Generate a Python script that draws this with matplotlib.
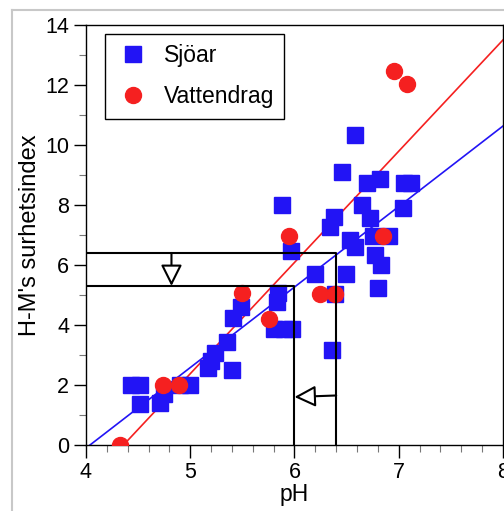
import numpy as np
import matplotlib.pyplot as plt
from matplotlib.lines import Line2D

plt.rcParams['font.family'] = ['Liberation Sans', 'DejaVu Sans']

# Sjöar (lakes)
lake_ph = [4.43, 4.52, 4.52, 4.71, 4.75, 4.90, 5.00, 5.17, 5.20, 5.24, 5.35, 5.40,
           5.41, 5.49, 5.84, 5.83, 5.80, 5.90, 5.98, 5.88, 5.97, 6.20, 6.34, 6.38,
           6.39, 6.36, 6.46, 6.49, 6.53, 6.58, 6.58, 6.65, 6.70, 6.72, 6.75, 6.77,
           6.82, 6.83, 6.80, 6.91, 7.04, 7.05, 7.12]
lake_idx = [2.0, 2.0, 1.35, 1.4, 1.7, 2.0, 2.0, 2.55, 2.8, 3.05, 3.44, 2.5,
            4.22, 4.6, 5.06, 4.78, 3.87, 3.87, 3.87, 8.0, 6.47, 5.70, 7.28, 7.6,
            5.03, 3.17, 9.11, 5.69, 6.83, 6.59, 10.33, 8.0, 8.73, 7.56, 6.97, 6.33,
            8.87, 6.0, 5.22, 6.97, 7.9, 8.72, 8.72]

# Vattendrag (streams)
stream_ph = [4.33, 4.74, 4.89, 5.50, 5.76, 5.95, 6.24, 6.39, 6.85, 6.95, 7.08]
stream_idx = [0.0, 2.0, 2.0, 5.05, 4.19, 6.98, 5.03, 5.03, 6.98, 12.48, 12.02]

# linear fits (slope, intercept)
lake_fit = [2.684, -10.84]
stream_fit = [3.709, -16.17]

# reading example: pH 6.4 -> 6.4, pH 6.0 -> 5.3
guide_ph = [6.4, 6.0]
guide_idx = [6.4, 5.3]

blue = '#2214f5'
red = '#f52020'

fig = plt.figure(figsize=(5.04, 5.11), dpi=100)
ax = fig.add_axes([0.1706, 0.1292, 0.8274, 0.8219])

# screenshot frame
fig.add_artist(Line2D([12 / 504, 1], [1 - 10 / 511] * 2, transform=fig.transFigure,
                      color='#c8c8c8', lw=1.5))
fig.add_artist(Line2D([12 / 504] * 2, [0, 1 - 10 / 511], transform=fig.transFigure,
                      color='#c8c8c8', lw=1.5))

for (a, b), c in [(lake_fit, blue), (stream_fit, red)]:
    xs = np.array([-b / a, 8])
    ax.plot(xs, np.polyval([a, b], xs), color=c, lw=1.2, zorder=2)

ax.plot(lake_ph, lake_idx, 's', color=blue, ms=11, mec=blue, label='Sjöar', zorder=3)
ax.plot(stream_ph, stream_idx, 'o', color=red, ms=11.5, mec=red, label='Vattendrag', zorder=4)

for p, v in zip(guide_ph, guide_idx):
    ax.plot([4, p, p], [v, v, 0], color='black', lw=1.5, zorder=5)

head = dict(arrowstyle='-|>,head_length=1.0,head_width=0.5', fc='white', ec='black',
            lw=1.5, mutation_scale=13, shrinkA=0, shrinkB=0)
ax.annotate('', xy=(4.82, guide_idx[1]), xytext=(4.82, guide_idx[0]), arrowprops=head, zorder=6)
ax.annotate('', xy=(guide_ph[1], 1.6), xytext=(guide_ph[0], 1.65), arrowprops=head, zorder=6)

ax.set_xlim(4, 8)
ax.set_ylim(0, 14)
ax.set_xticks(np.arange(4, 9, 1))
ax.set_xticks(np.arange(4, 8.01, 0.2), minor=True)
ax.set_yticks(np.arange(0, 15, 2))
ax.set_yticks(np.arange(1, 14, 2), minor=True)
ax.tick_params(which='major', direction='out', length=9, width=1, labelsize=15.5, pad=3)
ax.tick_params(which='minor', direction='out', length=5, width=0.8, color='#777777')
for s in ax.spines.values():
    s.set_linewidth(1)

ax.set_xlabel('pH', fontsize=16.5, labelpad=0)
ax.set_ylabel("H-M's surhetsindex", fontsize=17, labelpad=3)

ax.legend(loc='upper left', bbox_to_anchor=(0.046, 0.979), borderaxespad=0,
          fancybox=False, edgecolor='black', fontsize=16.5, borderpad=0.45,
          labelspacing=0.8, handlelength=1.5, handletextpad=0.6,
          framealpha=1).get_frame().set_linewidth(1)

fig.savefig('out.png', dpi=100)
